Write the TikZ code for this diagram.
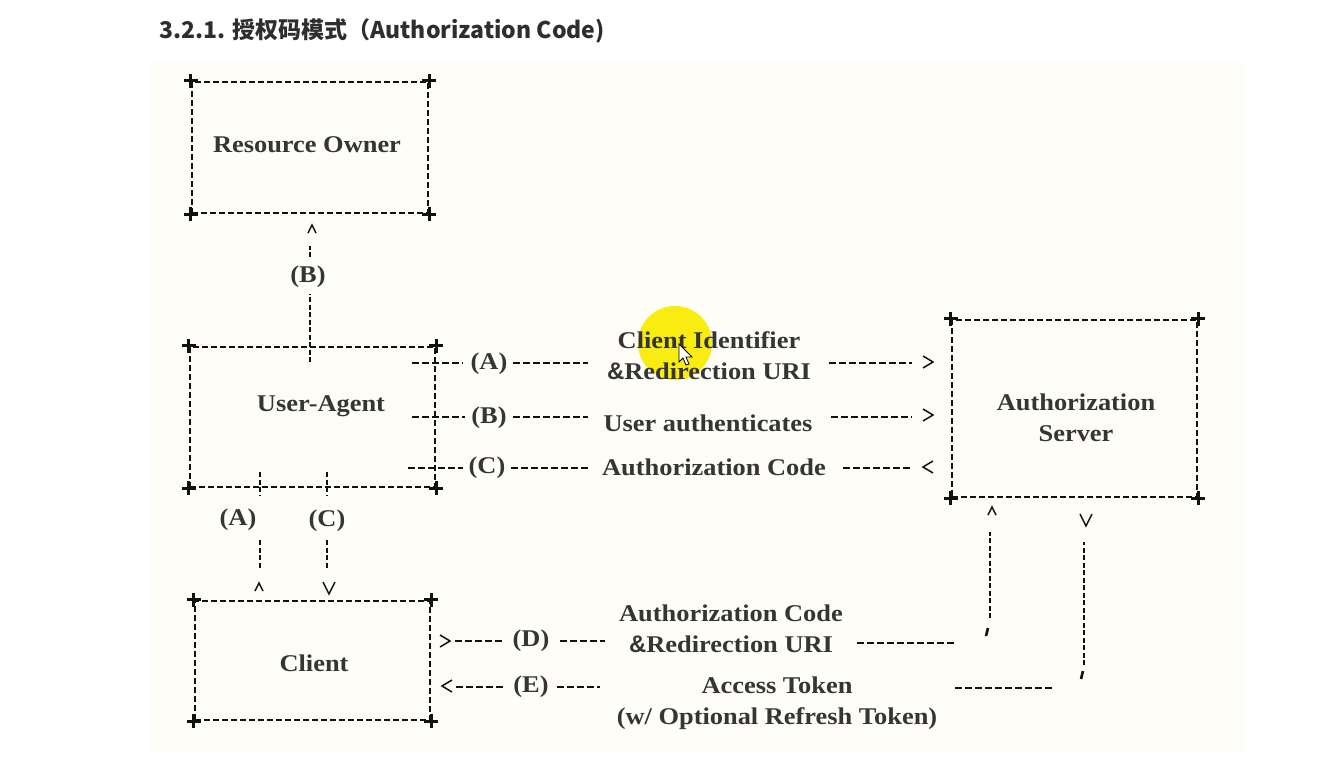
\documentclass[tikz,border=0pt]{standalone}
\usepackage{fontspec}
\setmainfont{Liberation Serif}
\newfontfamily\diagfont[FakeStretch=1.1]{Liberation Serif}
\newfontfamily\ampfont{Liberation Sans}
\newfontfamily\titlefont{Noto Sans CJK SC}
\usetikzlibrary{calc}
\definecolor{txt}{HTML}{353535}
\definecolor{ink}{HTML}{111111}
\definecolor{paper}{HTML}{FEFDF8}
\definecolor{hl}{HTML}{F8EC10}
\definecolor{titlec}{HTML}{2E2E2E}
\tikzset{
  box/.style={draw=ink, line width=2.3pt, dash pattern=on 6pt off 3pt, inner sep=0pt},
  lbl/.style={text=txt, font=\diagfont\bfseries\fontsize{24}{31}\selectfont, align=center, inner sep=1pt},
  conn/.style={draw=ink, line width=2pt, dash pattern=on 7pt off 3pt},
  vconn/.style={draw=ink, line width=2pt, dash pattern=on 5pt off 2.5pt},
  tipline/.style={draw=ink, line width=1.5pt},
  cornermark/.style={draw=ink, line width=2.8pt},
  tickmark/.style={draw=ink, line width=2.6pt},
  pics/tipR/.style={code={\draw[tipline] (-5,-6) -- (5,0) -- (-5,6);}},
  pics/tipL/.style={code={\draw[tipline] (5,-6) -- (-5,0) -- (5,6);}},
  pics/tipU/.style={code={\draw[tipline] (-4,4) -- (0,-4) -- (4,4);}},
  pics/tipD/.style={code={\draw[tipline] (-6,-6) -- (0,6) -- (6,-6);}},
}
\newcommand\pluses[1]{%
  \foreach \cc in {north west, north east, south west, south east}{%
    \draw[cornermark] ($(#1.\cc)+(-7,0)$) -- ++(14,0) ($(#1.\cc)+(0,-7)$) -- ++(0,14);}}
\begin{document}
\begin{tikzpicture}[x=1pt, y=-1pt]
\useasboundingbox (0,0) rectangle (1320,764);
\fill[white] (0,0) rectangle (1320,764);
\fill[paper] (150,62) rectangle (1245,752);
% cursor highlight
\fill[hl] (675,343) circle [radius=37pt];

% title
\node[anchor=west, text=titlec, font=\titlefont\bfseries\fontsize{23}{27}\selectfont, inner sep=0pt] (title) at (159,31) {3.2.1. 授权码模式（Authorization Code)};

% boxes
\node[box, minimum width=236pt, minimum height=131pt] (ro) at (310,147.5) {};
\node[lbl] (rot) at (307,145) {Resource Owner};
\node[box, minimum width=245pt, minimum height=140pt] (ua) at (312.5,417) {};
\node[lbl] (uat) at (321,406) {User-Agent};
\node[box, minimum width=245pt, minimum height=177pt] (as) at (1074.5,408.5) {};
\node[lbl] (ast) at (1076,418) {Authorization\\Server};
\node[box, minimum width=235pt, minimum height=119pt] (cl) at (312.5,660.5) {};
\node[lbl] (clt) at (314,663) {Client};
\pluses{ro}\pluses{ua}\pluses{as}\pluses{cl}

% (B) user-agent -> resource owner
\coordinate (B0) at (310,362);
\coordinate (B1) at (310,294);
\node[lbl] (lB) at (308,277) {(B)};
\coordinate (B2) at (310,257);
\coordinate (B3) at (310,246);
\coordinate (Bh) at (312,229);
\draw[vconn] (B0) -- (B1);
\draw[vconn] (B2) -- (B3);
\pic at (Bh) {tipU};

% row A
\coordinate (A0) at (412,363); \coordinate (A1) at (463,363);
\node[lbl] (lA) at (489,364) {(A)};
\coordinate (A2) at (513,363); \coordinate (A3) at (588,363);
\node[lbl] (tA) at (709,356) {Client Identifier\\{\ampfont\&}Redirection URI};
\coordinate (A4) at (829,363); \coordinate (A5) at (912,363);
\coordinate (Ah) at (928,362);
\draw[conn] (A0) -- (A1) (A2) -- (A3) (A4) -- (A5);
\pic at (Ah) {tipR};

% row B
\coordinate (R0) at (412,417); \coordinate (R1) at (465,417);
\node[lbl] (lBB) at (489,418) {(B)};
\coordinate (R2) at (513,417); \coordinate (R3) at (588,417);
\node[lbl] (tB) at (708,423) {User authenticates};
\coordinate (R4) at (831,417); \coordinate (R5) at (912,417);
\coordinate (Rh) at (928,415);
\draw[conn] (R0) -- (R1) (R2) -- (R3) (R4) -- (R5);
\pic at (Rh) {tipR};

% row C
\coordinate (C0) at (408,468); \coordinate (C1) at (463,468);
\node[lbl] (lC) at (487,468) {(C)};
\coordinate (C2) at (511,468); \coordinate (C3) at (588,468);
\node[lbl] (tC) at (714,467) {Authorization Code};
\coordinate (C4) at (843,468); \coordinate (C5) at (912,468);
\coordinate (Ch) at (928,467);
\draw[conn] (C0) -- (C1) (C2) -- (C3) (C4) -- (C5);
\pic at (Ch) {tipL};

% (A) and (C) between user-agent and client
\coordinate (VA0) at (260,472); \coordinate (VA1) at (260,496);
\node[lbl] (lVA) at (238,520) {(A)};
\coordinate (VA2) at (260,540); \coordinate (VA3) at (260,568);
\coordinate (VAh) at (259,587);
\draw[vconn] (VA0) -- (VA1) (VA2) -- (VA3);
\pic at (VAh) {tipU};
\coordinate (VC0) at (327,472); \coordinate (VC1) at (327,496);
\node[lbl] (lVC) at (327,521) {(C)};
\coordinate (VC2) at (327,540); \coordinate (VC3) at (327,568);
\coordinate (VCh) at (329,588);
\draw[vconn] (VC0) -- (VC1) (VC2) -- (VC3);
\pic at (VCh) {tipD};

% row D
\coordinate (Dh) at (445,641);
\coordinate (D0) at (455,641); \coordinate (D1) at (505,641);
\node[lbl] (lD) at (531,641) {(D)};
\coordinate (D2) at (560,641); \coordinate (D3) at (605,641);
\node[lbl] (tD) at (731,629) {Authorization Code\\{\ampfont\&}Redirection URI};
\coordinate (D4) at (857,643); \coordinate (D5) at (955,643);
\coordinate (Dt) at (987,632);
\coordinate (DV0) at (990,618); \coordinate (DV1) at (990,532);
\coordinate (DVh) at (992,511);
\pic at (Dh) {tipR};
\draw[conn] (D0) -- (D1) (D2) -- (D3) (D4) -- (D5);
\draw[tickmark] ($(Dt)+(1,-4)$) -- ($(Dt)+(-1,4)$);
\draw[vconn] (DV0) -- (DV1);
\pic at (DVh) {tipU};

% row E
\coordinate (Eh) at (447,686);
\coordinate (E0) at (456,687); \coordinate (E1) at (505,687);
\node[lbl] (lE) at (531,687) {(E)};
\coordinate (E2) at (557,687); \coordinate (E3) at (600,687);
\node[lbl] (tE) at (777,703) {Access Token\\(w/ Optional Refresh Token)};
\coordinate (E4) at (955,688); \coordinate (E5) at (1052,688);
\coordinate (Et) at (1082,675);
\coordinate (EV0) at (1084,665); \coordinate (EV1) at (1084,542);
\coordinate (EVh) at (1086,520);
\pic at (Eh) {tipL};
\draw[conn] (E0) -- (E1) (E2) -- (E3) (E4) -- (E5);
\draw[tickmark] ($(Et)+(1,-4)$) -- ($(Et)+(-1,4)$);
\draw[vconn] (EV0) -- (EV1);
\pic at (EVh) {tipD};

% mouse pointer
\filldraw[fill=white, draw=black, line width=0.8pt] (679,344) -- (679,362) -- (683,358) -- (686,365) -- (689,364) -- (686,357) -- (692,357) -- cycle;
\end{tikzpicture}
\end{document}
